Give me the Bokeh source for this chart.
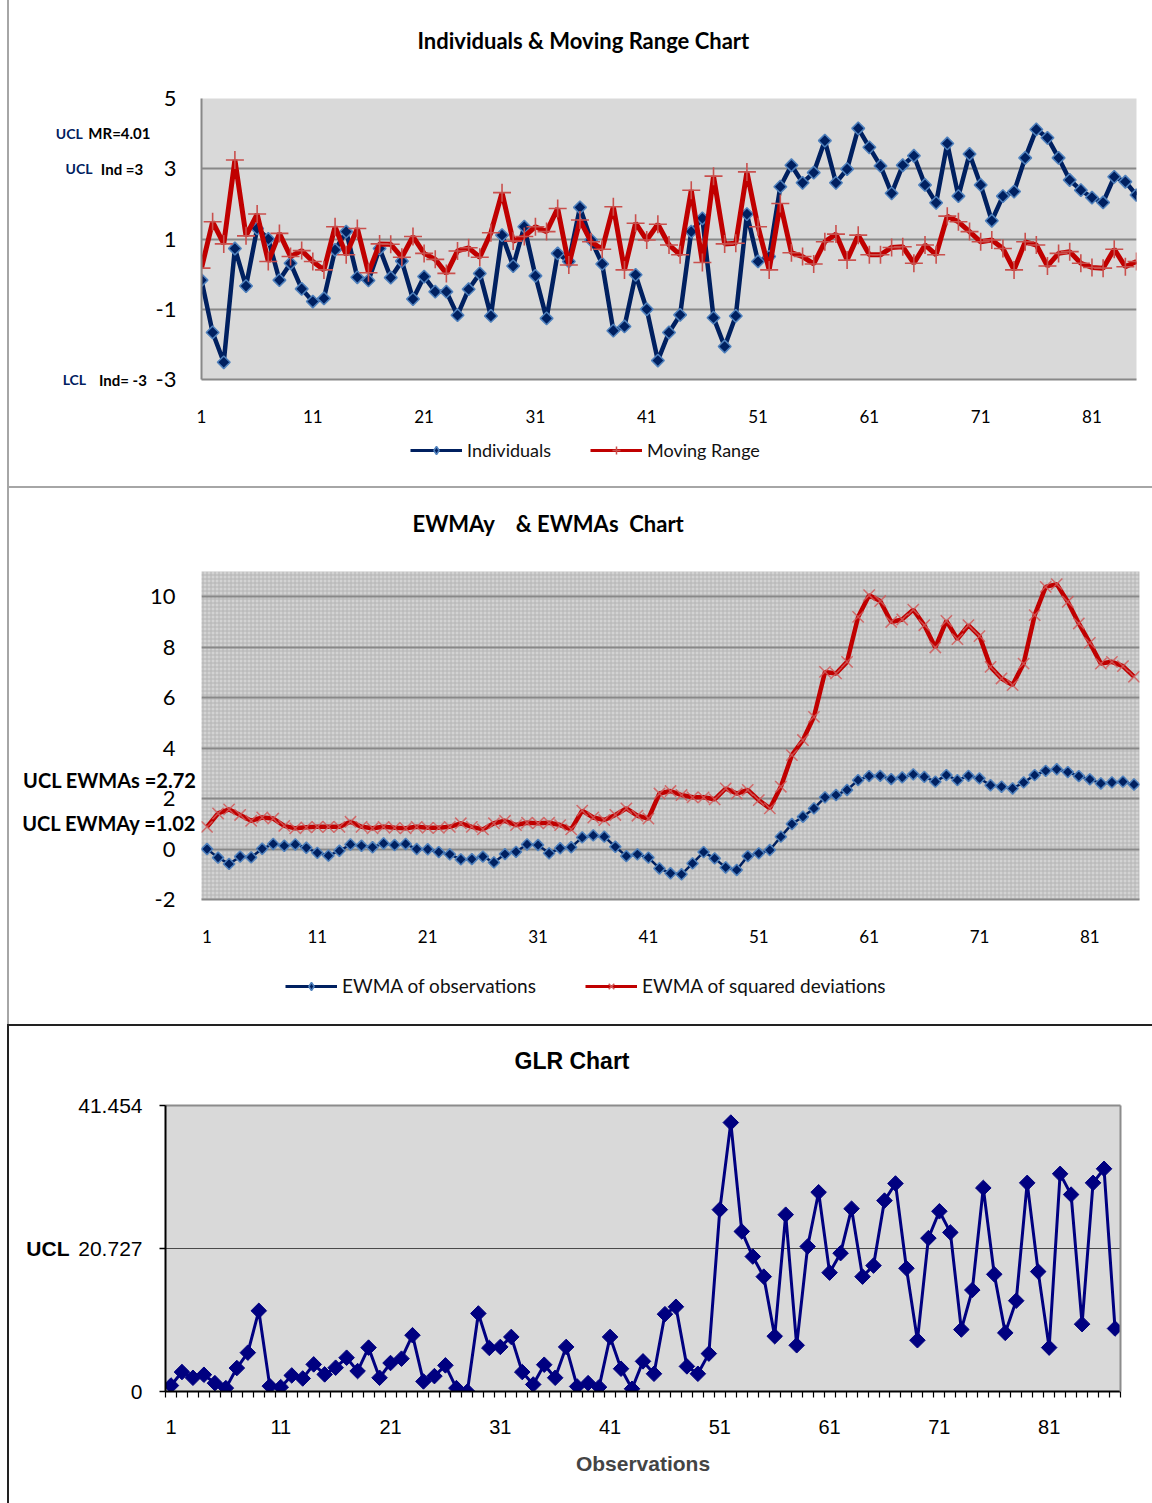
import numpy as np
from bokeh.plotting import figure
from bokeh.models import (Range1d, FixedTicker, Legend, LegendItem, BoxAnnotation,
                          LinearAxis, Label)
from bokeh.layouts import column
from bokeh.embed import file_html
from bokeh.resources import INLINE

# ---------------- data ----------------
obs = list(range(1, 86))
individuals = [
    -0.17, -1.66, -2.51, 0.73, -0.34, 1.30, 1.00, -0.17, 0.31, -0.42,
    -0.78, -0.69, 0.69, 1.21, -0.09, -0.18, 0.73, -0.10, 0.37, -0.71,
    -0.07, -0.50, -0.50, -1.17, -0.43, 0.02, -1.19, 1.11, 0.23, 1.35,
    -0.05, -1.26, 0.59, 0.36, 1.90, 0.97, 0.29, -1.61, -1.49, -0.02,
    -1.00, -2.46, -1.66, -1.16, 1.21, 1.59, -1.24, -2.06, -1.19, 1.71,
    0.36, 0.50, 2.49, 3.10, 2.60, 2.89, 3.80, 2.60, 2.99, 4.15,
    3.61, 3.08, 2.30, 3.10, 3.37, 2.54, 2.03, 3.72, 2.22, 3.42,
    2.54, 1.52, 2.22, 2.35, 3.31, 4.12, 3.88, 3.31, 2.68, 2.39,
    2.18, 2.04, 2.77, 2.63, 2.25]
moving_range = [
    0.17, 1.49, 0.86, 3.25, 1.09, 1.71, 0.36, 1.16, 0.50, 0.67,
    0.36, 0.12, 1.35, 0.55, 1.30, 0.04, 0.86, 0.85, 0.48, 1.07,
    0.59, 0.42, 0.02, 0.66, 0.75, 0.48, 1.18, 2.32, 0.94, 1.07,
    1.35, 1.21, 1.87, 0.26, 1.54, 0.92, 0.71, 1.92, 0.12, 1.45,
    0.97, 1.42, 0.83, 0.55, 2.39, 0.33, 2.79, 0.86, 0.88, 2.91,
    1.35, 0.12, 2.01, 0.61, 0.50, 0.29, 0.92, 1.14, 0.40, 1.11,
    0.55, 0.55, 0.76, 0.78, 0.31, 0.83, 0.55, 1.65, 1.49, 1.21,
    0.92, 0.97, 0.73, 0.12, 0.92, 0.83, 0.23, 0.59, 0.64, 0.31,
    0.19, 0.17, 0.71, 0.21, 0.36]
ewma_obs = [
    0.00, -0.34, -0.59, -0.30, -0.33, 0.01, 0.20, 0.13, 0.18, 0.05,
    -0.15, -0.26, -0.07, 0.18, 0.13, 0.07, 0.22, 0.16, 0.20, 0.00,
    -0.01, -0.12, -0.21, -0.41, -0.40, -0.30, -0.53, -0.20, -0.11, 0.18,
    0.16, -0.17, 0.03, 0.07, 0.46, 0.54, 0.49, 0.09, -0.28, -0.21,
    -0.34, -0.77, -0.96, -1.00, -0.57, -0.12, -0.37, -0.73, -0.83, -0.28,
    -0.17, -0.04, 0.49, 0.99, 1.28, 1.61, 2.05, 2.14, 2.34, 2.73,
    2.89, 2.90, 2.77, 2.84, 2.96, 2.86, 2.67, 2.93, 2.73, 2.90,
    2.80, 2.53, 2.47, 2.40, 2.64, 2.93, 3.10, 3.16, 3.05, 2.89,
    2.76, 2.60, 2.64, 2.67, 2.56]
ewma_sq = [
    0.88, 1.41, 1.57, 1.35, 1.12, 1.25, 1.21, 0.92, 0.82, 0.86,
    0.88, 0.88, 0.88, 1.08, 0.88, 0.82, 0.88, 0.84, 0.82, 0.88,
    0.84, 0.84, 0.88, 1.02, 0.88, 0.78, 1.02, 1.12, 0.95, 1.04,
    1.02, 1.04, 0.95, 0.78, 1.52, 1.25, 1.15, 1.35, 1.61, 1.32,
    1.21, 2.20, 2.30, 2.14, 2.05, 2.05, 1.97, 2.40, 2.20, 2.34,
    1.94, 1.61, 2.47, 3.72, 4.32, 5.24, 7.02, 6.96, 7.42, 9.20,
    10.06, 9.83, 9.00, 9.10, 9.49, 8.87, 7.99, 9.04, 8.32, 8.87,
    8.44, 7.22, 6.76, 6.50, 7.35, 9.27, 10.39, 10.50, 9.80, 8.94,
    8.17, 7.35, 7.42, 7.25, 6.83]
glr_obs = list(range(1, 88))
glr_stat = [
    0.87, 2.82, 1.99, 2.43, 1.21, 0.49, 3.40, 5.63, 11.70, 0.78,
    0.63, 2.33, 1.89, 3.93, 2.48, 3.45, 4.90, 2.96, 6.36, 1.99,
    4.13, 4.76, 8.16, 1.46, 2.23, 3.79, 0.49, 0.00, 11.31, 6.31,
    6.46, 7.91, 2.82, 1.02, 3.88, 1.99, 6.46, 0.73, 1.21, 0.63,
    7.91, 3.30, 0.39, 4.37, 2.57, 11.21, 12.28, 3.64, 2.57, 5.49,
    26.36, 38.98, 23.20, 19.56, 16.65, 8.01, 25.63, 6.70, 21.02, 28.88,
    17.23, 20.05, 26.50, 16.65, 18.25, 27.67, 30.15, 17.86, 7.43, 22.23,
    26.12, 23.06, 8.98, 14.71, 29.51, 16.99, 8.50, 13.16, 30.24, 17.38,
    6.36, 31.55, 28.54, 9.76, 30.24, 32.28, 9.13]
x_tick_values = [1, 11, 21, 31, 41, 51, 61, 71, 81]
ind_ticks = [-3, -1, 1, 3, 5]
ewma_ticks = [-2, 0, 2, 4, 6, 8, 10]
ucl_mr, ucl_ind, lcl_ind = 4.01, 3, -3
ucl_ewmas, ucl_ewmay = 2.72, 1.02
glr_ucl, glr_top = 20.727, 41.454

# ---------------- styling ----------------
W = 1152
CAL = "Lato"
ARIAL = "Liberation Sans"
NAVY = "#002060"
LBLUE = "#4F81BD"
RED = "#C00000"
PINK = "#C9504D"
XPINK = "#D05A5A"
GRID = "#888888"
PANEL_GRAY = "#A6A6A6"
PANEL_DARK = "#222222"
NB = "\u00a0"


def panel_lines(color, left=True, top=False, bottom=False):
    """CSS rules drawing the thin frame lines around one chart panel."""
    imgs, sizes, poss = [], [], []
    if left:
        imgs.append(f"linear-gradient({color},{color})")
        sizes.append("2px 100%")
        poss.append("7px 0px")
    if top:
        imgs.append(f"linear-gradient({color},{color})")
        sizes.append("calc(100% - 7px) 2px")
        poss.append("7px 0px")
    if bottom:
        imgs.append(f"linear-gradient({color},{color})")
        sizes.append("calc(100% - 7px) 2px")
        poss.append("7px 100%")
    return {"background-image": ", ".join(imgs), "background-size": ", ".join(sizes),
            "background-position": ", ".join(poss), "background-repeat": "no-repeat"}


def style_axis(ax, font, size, standoff, line_color, line_width=2):
    ax.axis_line_color = line_color
    ax.axis_line_width = line_width
    ax.major_tick_line_color = None
    ax.minor_tick_line_color = None
    ax.major_tick_out = 0
    ax.major_tick_in = 0
    ax.minor_tick_out = 0
    ax.minor_tick_in = 0
    ax.major_label_standoff = standoff
    ax.major_label_text_font = font
    ax.major_label_text_font_size = size
    ax.major_label_text_color = "black"


def text_axis(ticks, labels, font, size, standoff, color="black"):
    """A bare left axis whose tick labels carry control-limit captions."""
    ax = LinearAxis(ticker=FixedTicker(ticks=ticks),
                    major_label_overrides=dict(zip(ticks, labels)))
    style_axis(ax, font, size, standoff, None)
    ax.major_label_text_font_style = "bold"
    ax.major_label_text_color = color
    return ax


def edge_axis(color):
    """A tick-less axis used only for its line along one frame edge."""
    return LinearAxis(ticker=FixedTicker(ticks=[]), axis_line_color=color,
                      axis_line_width=2, major_tick_line_color=None,
                      minor_tick_line_color=None, major_label_text_font_size="0px")


def strip(height, styles):
    """A thin row (pixel coordinates) for a chart heading or its series keys."""
    f = figure(width=W, height=height, x_range=Range1d(0, W), y_range=Range1d(0, height),
               output_backend="svg", toolbar_location=None, frame_align=False,
               x_axis_location=None, y_axis_location=None, min_border=0, styles=styles)
    f.grid.visible = False
    f.outline_line_color = None
    f.background_fill_alpha = 0
    f.border_fill_alpha = 0
    return f


def heading(height, text, x, y_mid, font, size, styles):
    f = strip(height, styles)
    f.add_layout(Label(x=x, y=height - y_mid, text=text, text_align="left",
                       text_baseline="middle", text_font=font, text_font_size=size,
                       text_font_style="bold", text_color="black"))
    return f


def key_strip(height, entries, y_mid, font, size, styles):
    f = strip(height, styles)
    for label, x, draw in entries:
        f.add_layout(Legend(items=[LegendItem(label=label, renderers=draw(f))],
                            location=(x, height - y_mid - 10), orientation="horizontal",
                            glyph_width=52, glyph_height=20, label_height=20,
                            label_standoff=5, padding=0, margin=0,
                            border_line_color=None, background_fill_alpha=0,
                            label_text_font=font, label_text_font_size=size,
                            label_text_color="#111111"))
    return f


# swatch glyphs for the keys sit outside the strip's visible range
OFF = [-100.0, -90.0]


def diamond_key(color, edge, width):
    return lambda f: [f.line(OFF, OFF, line_color=color, line_width=width),
                      f.scatter(OFF, OFF, marker="diamond", size=12,
                                fill_color=color, line_color=edge, line_width=1.5)]


def mark_key(color, marker, mark_color, width):
    return lambda f: [f.line(OFF, OFF, line_color=color, line_width=width),
                      f.scatter(OFF, OFF, marker=marker, size=12, line_color=mark_color,
                                line_width=1.5)]


def minus_labels(ticks):
    return {t: str(t) for t in ticks}


# ================= Individuals & Moving Range =================
T1, H1, K1 = 70, 362, 56          # heading, chart, key rows
top1 = T1
F1 = (201, 1136, 98 - top1, 379 - top1)
t1 = heading(T1, "Individuals & Moving Range Chart", 417, 40, CAL, "22px",
             panel_lines(PANEL_GRAY))
p1 = figure(width=W, height=H1, x_range=Range1d(1, 85), y_range=Range1d(-3, 5),
            output_backend="svg", toolbar_location=None, frame_align=False,
            min_border_left=F1[0], min_border_right=W - F1[1],
            min_border_top=F1[2], min_border_bottom=H1 - F1[3],
            styles=panel_lines(PANEL_GRAY))
p1.background_fill_color = "#D9D9D9"
p1.border_fill_alpha = 0
p1.outline_line_color = None
p1.xgrid.visible = False
p1.yaxis.ticker = FixedTicker(ticks=ind_ticks)
p1.ygrid.ticker = FixedTicker(ticks=ind_ticks)
p1.yaxis.major_label_overrides = minus_labels(ind_ticks)
p1.ygrid.grid_line_color = GRID
p1.ygrid.grid_line_width = 2
p1.xaxis.ticker = FixedTicker(ticks=x_tick_values)
style_axis(p1.yaxis[0], CAL, "22px", 25, GRID)
style_axis(p1.xaxis[0], CAL, "17px", 30, GRID)

limit_ticks = [ucl_mr, ucl_ind, lcl_ind]
p1.add_layout(text_axis(limit_ticks,
                        [f"MR={ucl_mr}", f"Ind ={ucl_ind}" + NB * 2, f"Ind= {lcl_ind}" + NB],
                        CAL, "15px", 2), "left")
p1.add_layout(text_axis(limit_ticks, ["UCL" + NB * 3, "UCL", "LCL" + NB * 2],
                        CAL, "14px", -7, NAVY), "left")

p1.line(obs, individuals, line_color=NAVY, line_width=4.5)
p1.scatter(obs, individuals, marker="square", angle=np.pi / 4, size=9,
           fill_color=NAVY, line_color=LBLUE, line_width=1.5)
p1.line(obs, moving_range, line_color=RED, line_width=5)
p1.scatter(obs, moving_range, marker="cross", size=18, line_color=PINK, line_width=1.6)

k1_top = T1 + H1
k1 = key_strip(K1, [("Individuals", 410, diamond_key(NAVY, LBLUE, 3)),
                    ("Moving Range", 590, mark_key(RED, "cross", PINK, 3))],
               451 - k1_top, CAL, "18px", panel_lines(PANEL_GRAY, bottom=True))

# ================= EWMAy & EWMAs =================
T2, H2, K2 = 60, 414, 62
top2 = 488 + T2
F2 = (201, 1139, 571 - top2, 899 - top2)
t2 = heading(T2, f"EWMAy{NB * 4}& EWMAs{NB * 2}Chart", 412, 35, CAL, "22px",
             panel_lines(PANEL_GRAY))
p2 = figure(width=W, height=H2, x_range=Range1d(0.5, 85.5), y_range=Range1d(-2, 11),
            output_backend="svg", toolbar_location=None, frame_align=False,
            min_border_left=F2[0], min_border_right=W - F2[1],
            min_border_top=F2[2], min_border_bottom=H2 - F2[3],
            styles=panel_lines(PANEL_GRAY))
p2.background_fill_color = "#D3D3D3"
p2.border_fill_alpha = 0
p2.outline_line_color = None
p2.add_layout(BoxAnnotation(fill_alpha=0, line_alpha=0, hatch_pattern="+",
                            hatch_scale=4, hatch_weight=1, hatch_color="#B4B4B4",
                            hatch_alpha=1, level="image"))
p2.xgrid.visible = False
p2.yaxis.ticker = FixedTicker(ticks=ewma_ticks)
p2.ygrid.ticker = FixedTicker(ticks=ewma_ticks)
p2.yaxis.major_label_overrides = minus_labels(ewma_ticks)
p2.ygrid.grid_line_color = GRID
p2.ygrid.grid_line_width = 2
p2.xaxis.ticker = FixedTicker(ticks=x_tick_values)
style_axis(p2.yaxis[0], CAL, "22px", 26, None)
style_axis(p2.xaxis[0], CAL, "17px", 30, GRID)
p2.add_layout(text_axis([ucl_ewmas, ucl_ewmay],
                        [f"UCL EWMAs ={ucl_ewmas}", f"UCL EWMAy ={ucl_ewmay}"],
                        CAL, "20px", -50), "left")

p2.line(obs, ewma_obs, line_color=NAVY, line_width=2.5)
p2.scatter(obs, ewma_obs, marker="square", angle=np.pi / 4, size=8,
           fill_color=NAVY, line_color=LBLUE, line_width=1.5)
p2.line(obs, ewma_sq, line_color=RED, line_width=4.5)
p2.scatter(obs, ewma_sq, marker="x", size=16, line_color=XPINK,
           line_width=1.5, line_alpha=0.85)

k2_top = top2 + H2
k2 = key_strip(K2, [("EWMA of observations", 285, diamond_key(NAVY, LBLUE, 3)),
                    ("EWMA of squared deviations", 585, mark_key(RED, "x", XPINK, 3))],
               987 - k2_top, CAL, "19px", panel_lines(PANEL_GRAY))

# ================= GLR =================
T3, H3 = 61, 418
top3 = 1024 + T3
F3 = (165, 1120, 1105 - top3, 1391 - top3)
t3 = heading(T3, "GLR Chart", 514, 36, ARIAL, "23px",
             panel_lines(PANEL_DARK, left=True, top=True))
p3 = figure(width=W, height=H3, x_range=Range1d(0.5, 87.5), y_range=Range1d(0, glr_top),
            output_backend="svg", toolbar_location=None, frame_align=False,
            min_border_left=F3[0], min_border_right=W - F3[1],
            min_border_top=F3[2], min_border_bottom=H3 - F3[3],
            styles=panel_lines(PANEL_DARK))
p3.background_fill_color = "#D9D9D9"
p3.border_fill_alpha = 0
p3.outline_line_color = None
p3.xgrid.visible = False
glr_y_ticks = [0, glr_ucl, glr_top]
p3.yaxis.ticker = FixedTicker(ticks=glr_y_ticks)
p3.ygrid.ticker = FixedTicker(ticks=[glr_ucl])
p3.ygrid.grid_line_color = "#4A4A4A"
p3.ygrid.grid_line_width = 1
p3.yaxis.major_label_overrides = {0: "0", glr_ucl: f"{glr_ucl}", glr_top: f"{glr_top}"}
p3.xaxis.ticker = FixedTicker(ticks=x_tick_values,
                              minor_ticks=[i + 0.5 for i in range(0, 88)])

ya = p3.yaxis[0]
style_axis(ya, ARIAL, "21px", 17, "black")
ya.major_tick_line_color = "black"
ya.major_tick_line_width = 1.5
ya.major_tick_out = 6
xa = p3.xaxis[0]
style_axis(xa, ARIAL, "20px", 22, "black")
xa.major_tick_out = 6
xa.minor_tick_line_color = "black"
xa.minor_tick_line_width = 1.2
xa.minor_tick_out = 6
xa.axis_label = "Observations"
xa.axis_label_text_font = ARIAL
xa.axis_label_text_font_size = "21px"
xa.axis_label_text_font_style = "bold"
xa.axis_label_standoff = 15
p3.add_layout(text_axis([glr_ucl], ["UCL"], ARIAL, "21px", 6), "left")
p3.add_layout(edge_axis("#8C8C8C"), "right")
p3.add_layout(edge_axis("#8C8C8C"), "above")

p3.line(glr_obs, glr_stat, line_color="#000080", line_width=3)
p3.scatter(glr_obs, glr_stat, marker="square", angle=np.pi / 4, size=11,
           fill_color="#000080", line_color="#000080", line_width=1)

layout = column(t1, p1, k1, t2, p2, k2, t3, p3, spacing=0)
open("out.html", "w").write(file_html(layout, INLINE, title="Control charts"))
